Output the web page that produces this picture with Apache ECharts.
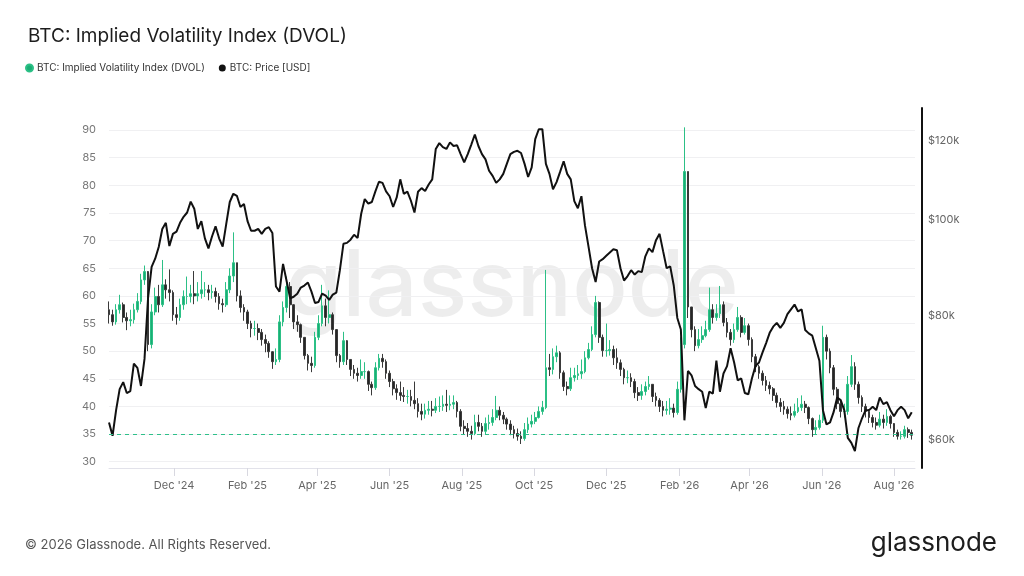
<!DOCTYPE html>
<html>
<head>
<meta charset="utf-8">
<title>BTC: Implied Volatility Index (DVOL)</title>
<script src="https://cdn.jsdelivr.net/npm/echarts@6/dist/echarts.min.js"></script>
<style>
  html, body { margin: 0; padding: 0; background: #fff; }
  #chart { width: 1024px; height: 576px; }
</style>
</head>
<body>
<div id="chart"></div>
<script>
// one sample every 3 days, first one on 2024-10-07
var startDay = Date.UTC(2024, 9, 7);
var stepDays = 3;
var firstOpen = 57.5;

// DVOL candles (open = previous close)
var dvolClose = [
  56.6, 55.3, 57.5, 58.4, 56.1, 55.5, 55.7, 57.5, 59.0, 62.9,
  64.4, 51.2, 57.1, 59.9, 58.4, 62.0, 61.1, 60.6, 56.6, 56.1,
  58.4, 59.9, 59.9, 60.4, 60.0, 60.4, 61.1, 61.1, 60.6, 60.8,
  59.9, 58.6, 58.4, 61.1, 63.6, 66.0, 60.0, 57.9, 57.1, 55.0,
  54.1, 54.1, 53.4, 52.1, 51.4, 49.9, 48.1, 48.5, 55.3, 57.9,
  61.7, 58.4, 55.3, 54.8, 52.5, 49.2, 47.8, 47.4, 52.5, 55.0,
  58.2, 56.1, 56.6, 53.9, 49.2, 48.1, 51.9, 48.5, 46.7, 46.0,
  45.6, 46.3, 46.3, 44.0, 43.4, 47.0, 48.7, 48.1, 46.0, 44.5,
  43.2, 42.5, 42.0, 41.8, 41.8, 41.1, 40.5, 39.1, 38.6, 39.3,
  39.5, 39.3, 40.0, 40.0, 40.4, 40.2, 40.4, 40.7, 39.1, 36.4,
  36.0, 35.5, 35.1, 37.1, 36.4, 35.5, 36.9, 37.1, 38.0, 39.3,
  38.4, 37.7, 36.8, 35.8, 35.1, 34.6, 34.2, 35.8, 36.8, 37.3,
  38.0, 39.1, 39.8, 47.0, 46.7, 49.0, 49.7, 46.1, 43.6, 43.2,
  45.2, 45.6, 45.9, 46.3, 48.8, 50.3, 53.0, 58.8, 52.5, 50.1,
  50.1, 50.3, 48.8, 47.9, 46.7, 45.2, 45.2, 44.5, 42.5, 42.0,
  42.7, 43.6, 44.0, 41.8, 41.1, 40.0, 39.3, 39.5, 39.7, 38.9,
  43.1, 51.2, 82.5, 58.0, 53.9, 51.0, 52.1, 52.8, 53.9, 57.5,
  56.1, 56.8, 58.4, 55.2, 53.4, 52.1, 53.9, 56.1, 53.4, 54.6,
  52.1, 49.0, 47.2, 46.0, 44.7, 43.8, 43.2, 42.0, 40.7, 40.0,
  39.5, 38.7, 38.4, 39.1, 39.8, 40.4, 39.8, 37.8, 35.8, 36.2,
  37.5, 52.5, 50.0, 47.0, 43.1, 40.5, 39.1, 39.1, 44.0, 47.2,
  44.0, 41.6, 40.0, 39.1, 38.0, 37.1, 36.6, 37.7, 37.1, 38.2,
  36.9, 35.3, 34.6, 34.6, 35.8, 35.3, 34.8
];
var dvolHigh = [
  59.0, 57.5, 58.5, 60.2, 58.8, 57.0, 57.5, 58.6, 60.5, 64.0,
  65.5, 64.5, 58.5, 61.5, 62.0, 66.5, 63.0, 64.8, 61.0, 58.0,
  59.5, 61.0, 63.5, 62.0, 64.5, 62.5, 64.5, 62.5, 62.0, 62.0,
  61.5, 60.5, 59.5, 62.5, 65.0, 71.5, 66.0, 61.0, 58.5, 57.5,
  55.5, 55.5, 55.0, 54.0, 53.0, 51.8, 50.0, 50.5, 56.5, 59.0,
  63.5, 62.5, 58.5, 56.5, 55.0, 52.5, 49.5, 49.0, 53.5, 56.5,
  62.0, 59.5, 61.0, 57.0, 54.0, 49.5, 53.5, 52.0, 48.5, 47.5,
  47.0, 48.5, 48.0, 46.5, 44.5, 48.0, 49.5, 49.5, 48.5, 46.5,
  45.0, 44.0, 44.5, 43.5, 43.0, 43.0, 44.5, 41.5, 40.5, 40.5,
  41.0, 41.0, 41.5, 41.8, 42.0, 43.0, 42.0, 42.0, 41.0, 39.5,
  37.5, 37.0, 36.5, 38.5, 38.5, 37.0, 38.0, 38.5, 39.5, 41.9,
  40.0, 39.0, 38.0, 37.5, 36.5, 36.0, 35.5, 37.0, 38.0, 38.5,
  39.0, 40.0, 41.0, 64.7, 49.5, 50.5, 51.0, 50.0, 46.5, 44.5,
  47.0, 47.0, 47.5, 48.5, 50.0, 51.5, 54.5, 60.0, 59.0, 53.0,
  55.0, 52.0, 51.0, 50.5, 48.5, 47.0, 46.5, 46.0, 45.0, 43.5,
  44.0, 44.5, 45.5, 44.0, 42.5, 41.5, 41.0, 41.0, 41.5, 40.5,
  44.5, 52.5, 90.5, 82.5, 58.0, 54.5, 54.0, 54.5, 55.5, 61.5,
  58.5, 58.5, 61.8, 59.0, 56.0, 54.0, 55.0, 58.0, 56.5, 56.0,
  55.0, 52.5, 49.5, 47.5, 46.5, 45.5, 44.5, 43.5, 42.5, 41.5,
  41.0, 40.0, 40.0, 40.5, 41.5, 42.0, 41.0, 40.0, 38.0, 37.5,
  38.5, 54.6, 53.0, 50.5, 47.5, 43.5, 41.0, 40.5, 45.5, 49.3,
  48.0, 44.5, 42.0, 40.5, 39.5, 38.5, 38.0, 39.0, 38.5, 39.5,
  38.5, 37.0, 35.8, 35.5, 36.5, 36.2, 35.8
];
var dvolLow = [
  55.0, 54.6, 54.8, 56.8, 55.2, 53.8, 54.5, 55.0, 57.0, 58.5,
  62.0, 50.0, 50.5, 56.5, 57.0, 58.0, 59.5, 59.0, 55.5, 54.8,
  55.5, 57.5, 58.5, 58.8, 58.5, 59.0, 59.5, 59.8, 59.2, 59.5,
  58.8, 57.5, 57.0, 58.0, 60.5, 62.5, 59.0, 57.0, 55.5, 54.0,
  52.5, 52.8, 52.0, 51.0, 49.8, 48.8, 46.8, 47.5, 48.0, 54.5,
  57.0, 56.0, 54.0, 53.5, 51.5, 48.5, 46.5, 46.2, 47.0, 52.0,
  54.5, 54.5, 55.0, 53.0, 48.0, 47.0, 47.5, 47.5, 45.5, 45.0,
  44.5, 45.0, 45.0, 42.8, 42.0, 43.0, 46.5, 47.0, 45.0, 43.5,
  42.0, 41.2, 41.0, 40.8, 40.5, 40.0, 39.5, 38.0, 37.5, 37.8,
  38.5, 38.2, 38.8, 39.0, 39.2, 39.0, 39.3, 39.5, 38.0, 35.5,
  35.0, 34.5, 34.0, 34.8, 35.5, 34.5, 35.0, 35.8, 36.5, 37.5,
  37.5, 36.8, 35.8, 34.8, 34.2, 33.8, 33.2, 33.8, 35.2, 36.2,
  36.8, 37.8, 38.5, 39.5, 45.5, 45.8, 48.0, 45.0, 42.8, 42.0,
  42.8, 44.5, 44.8, 45.0, 46.0, 48.5, 50.0, 52.5, 51.5, 49.0,
  49.0, 49.2, 47.5, 46.8, 45.5, 44.0, 44.2, 43.5, 41.5, 41.0,
  41.2, 42.0, 43.0, 40.8, 40.0, 39.0, 38.2, 38.5, 38.5, 38.0,
  38.5, 42.5, 50.5, 56.0, 52.5, 50.0, 50.5, 51.5, 52.5, 53.5,
  55.0, 55.5, 56.0, 54.5, 52.5, 51.0, 51.5, 53.5, 52.5, 53.0,
  51.0, 48.0, 46.2, 45.0, 43.8, 42.8, 42.2, 41.0, 39.8, 39.0,
  38.5, 37.8, 37.5, 38.0, 38.8, 39.2, 38.8, 36.8, 34.5, 35.0,
  35.8, 37.0, 48.5, 46.0, 42.0, 39.5, 38.0, 38.0, 38.5, 43.5,
  43.0, 40.5, 39.0, 38.0, 37.0, 36.2, 35.8, 36.2, 36.0, 36.5,
  36.0, 34.5, 34.0, 34.0, 34.2, 34.3, 34.0
];

// BTC price, thousands of USD
var priceK = [
  62.5, 60.6, 64.3, 67.5, 68.6, 66.9, 67.2, 71.6, 70.9, 68.0,
  72.4, 83.4, 89.6, 91.3, 93.8, 97.8, 99.2, 94.0, 96.7, 97.2,
  99.2, 100.6, 101.6, 104.2, 102.5, 97.8, 99.6, 95.7, 93.5, 96.1,
  98.4, 95.7, 93.9, 98.9, 104.1, 106.1, 105.6, 102.9, 103.6, 99.6,
  97.4, 97.4, 97.8, 96.7, 97.8, 98.2, 96.9, 85.6, 84.6, 90.2,
  86.7, 83.3, 83.6, 84.2, 85.4, 85.8, 86.4, 84.6, 82.4, 82.6,
  84.2, 83.8, 83.0, 84.0, 84.4, 88.9, 94.5, 94.7, 95.4, 96.5,
  95.8, 101.3, 104.8, 103.7, 104.1, 106.7, 109.1, 108.8, 106.7, 105.5,
  102.9, 105.2, 109.7, 106.1, 106.6, 104.4, 101.6, 106.6, 107.5, 106.8,
  108.4, 109.7, 117.7, 119.3, 118.2, 117.7, 119.5, 118.5, 118.7, 116.3,
  114.1, 116.3, 118.9, 121.7, 118.5, 116.3, 114.9, 111.9, 110.6, 108.8,
  109.7, 111.1, 113.7, 116.3, 116.9, 117.2, 116.6, 113.7, 110.3, 112.8,
  120.4, 123.2, 123.2, 113.7, 111.1, 107.2, 109.0, 111.6, 114.4, 111.1,
  109.7, 104.3, 102.6, 105.5, 98.6, 93.9, 89.3, 86.5, 90.7, 91.2,
  91.9, 92.6, 93.3, 93.1, 89.3, 86.8, 87.7, 88.9, 88.0, 88.7,
  88.5, 91.8, 93.5, 92.7, 95.3, 96.7, 92.9, 89.3, 89.7, 85.8,
  79.6, 77.5, 62.8, 70.4, 69.7, 68.0, 67.5, 67.1, 64.6, 67.1,
  66.8, 72.1, 67.1, 70.0, 71.2, 74.2, 71.8, 68.9, 69.2, 66.9,
  66.7, 69.2, 71.2, 71.8, 73.5, 75.1, 76.9, 78.0, 78.7, 77.8,
  78.7, 80.3, 81.2, 82.1, 80.8, 81.2, 77.4, 76.8, 76.4, 74.2,
  72.1, 64.3, 62.2, 62.5, 64.0, 66.2, 65.8, 64.3, 60.3, 59.6,
  58.5, 61.7, 63.1, 64.3, 64.3, 64.8, 64.3, 66.2, 65.2, 65.5,
  64.3, 63.4, 64.3, 64.8, 64.3, 63.1, 64.0
];

var dvolTicks = [30, 35, 40, 45, 50, 55, 60, 65, 70, 75, 80, 85, 90];
var priceTicks = [60000, 80000, 100000, 120000];
var monthTicks = ['2024-12-01', '2025-02-01', '2025-04-01', '2025-06-01', '2025-08-01',
  '2025-10-01', '2025-12-01', '2026-02-01', '2026-04-01', '2026-06-01', '2026-08-01'];
var monthNames = ['Jan', 'Feb', 'Mar', 'Apr', 'May', 'Jun', 'Jul', 'Aug', 'Sep', 'Oct', 'Nov', 'Dec'];

var DVOL = 'BTC: Implied Volatility Index (DVOL)';
var PRICE = 'BTC: Price [USD]';

var candles = [], priceLine = [];
for (var i = 0; i < dvolClose.length; i++) {
  var t = startDay + i * stepDays * 86400000;
  var o = i === 0 ? firstOpen : dvolClose[i - 1];
  var c = dvolClose[i];
  candles.push([t, o, c, Math.min(dvolLow[i], o, c), Math.max(dvolHigh[i], o, c)]);
  priceLine.push([t, priceK[i] * 1000]);
}
var monthStamps = monthTicks.map(function (s) { return Date.parse(s); });

var myChart = echarts.init(document.getElementById('chart'));
var option = {
  animation: false,
  backgroundColor: '#fff',
  textStyle: { fontFamily: 'Inter, "Noto Sans", sans-serif' },
  title: {
    text: DVOL,
    left: 23,
    top: 22,
    textStyle: { fontSize: 19, fontWeight: 'normal', color: '#1d1d1d', fontFamily: 'Inter' }
  },
  legend: {
    left: 20,
    top: 58,
    icon: 'circle',
    itemWidth: 7,
    itemHeight: 7,
    itemGap: 14,
    textStyle: { fontSize: 10, color: '#333', padding: [0, 0, 0, -1] },
    data: [
      { name: DVOL, itemStyle: { color: '#1aae74' } },
      { name: PRICE, itemStyle: { color: '#111' } }
    ]
  },
  grid: { left: 109, right: 109, top: 108, bottom: 108 },
  xAxis: {
    type: 'value',
    min: Date.UTC(2024, 9, 7),
    max: Date.UTC(2026, 7, 18, 18),
    axisLine: { lineStyle: { color: '#e2e2ea', width: 1 } },
    axisTick: { show: true, length: 8, lineStyle: { color: '#d8d8e0' }, customValues: monthStamps },
    axisLabel: {
      customValues: monthStamps,
      margin: 12,
      fontSize: 11,
      color: '#666',
      formatter: function (v) {
        var d = new Date(v);
        return monthNames[d.getUTCMonth()] + " '" + String(d.getUTCFullYear()).slice(2);
      }
    },
    splitLine: { show: false }
  },
  yAxis: [
    {
      type: 'value',
      position: 'left',
      min: 28.86,
      max: 94,
      axisLine: { show: false },
      axisTick: { show: false, customValues: dvolTicks },
      axisLabel: { customValues: dvolTicks, margin: 13, fontSize: 11, color: '#777' },
      splitLine: { show: true, lineStyle: { color: '#f0f0f2', width: 1 } }
    },
    {
      type: 'log',
      logBase: 10,
      position: 'right',
      offset: 7,
      min: 56240,
      max: 129400,
      axisLine: { show: true, lineStyle: { color: '#111', width: 2 } },
      axisTick: { show: false },
      axisLabel: {
        customValues: priceTicks,
        margin: 6,
        fontSize: 11,
        color: '#666',
        formatter: function (v) { return '$' + Math.round(v / 1000) + 'k'; }
      },
      splitLine: { show: false }
    }
  ],
  graphic: [
    {
      type: 'text', left: 'center', top: 242, z: 0, silent: true,
      style: { text: 'glassnode', fontSize: 92, fontFamily: 'Inter', fontWeight: 500, fill: 'rgba(0,0,0,0.07)' }
    },
    {
      type: 'text', left: 25, top: 539,
      style: { text: '\u00a9 2026 Glassnode. All Rights Reserved.', fontSize: 13, fontFamily: 'Inter', fill: '#555' }
    },
    {
      type: 'text', right: 27, top: 530,
      style: { text: 'glassnode', fontSize: 26, fontFamily: 'Inter', fill: '#1d1d1d' }
    }
  ],
  series: [
    {
      name: DVOL,
      type: 'candlestick',
      yAxisIndex: 0,
      barWidth: 2.2,
      itemStyle: {
        color: '#1aae74',
        borderColor: '#2cc086',
        color0: '#262626',
        borderColor0: '#3a3a3a',
        borderWidth: 1
      },
      markLine: {
        silent: true,
        symbol: 'none',
        label: { show: false },
        lineStyle: { color: '#2ec08a', type: [4, 4], width: 1 },
        data: [{ yAxis: 35 }]
      },
      data: candles
    },
    {
      name: PRICE,
      type: 'line',
      yAxisIndex: 1,
      showSymbol: false,
      z: 3,
      lineStyle: { color: '#111', width: 2 },
      itemStyle: { color: '#111' },
      data: priceLine
    }
  ]
};
myChart.setOption(option);
window.addEventListener('resize', function () {
  myChart.resize();
});
</script>
</body>
</html>
